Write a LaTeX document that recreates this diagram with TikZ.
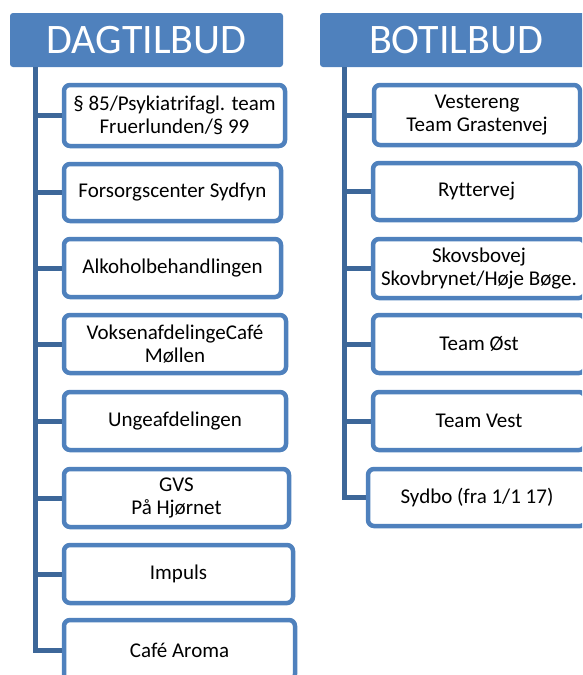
\documentclass[tikz,border=0pt]{standalone}
\usepackage{fontspec}
\setmainfont{Carlito}[Ligatures=NoCommon]
\definecolor{hdr}{HTML}{4F81BD}
\definecolor{brd}{HTML}{4F81BD}
\definecolor{trunk}{HTML}{3D6799}
\begin{document}
\begin{tikzpicture}[x=1pt,y=-1pt,
 hdrbox/.style={fill=hdr, draw=none, rounded corners=3pt, text=white, font=\fontsize{42}{46}\selectfont, inner sep=0pt},
 itembox/.style={draw=brd, line width=4.5pt, fill=white, rounded corners=6pt, align=center, font=\fontsize{21}{23.5}\selectfont, inner sep=0pt},
 conn/.style={draw=trunk, line width=5pt}]
\useasboundingbox (0,0) rectangle (582,675);
\clip (0,0) rectangle (582,675);
% headers
\node[hdrbox, minimum width=273pt, minimum height=54pt] (dag) at (146.5,40) {DAGTILBUD};
\node[hdrbox, minimum width=272pt, minimum height=54pt] (bo) at (456,40) {BOTILBUD};
\coordinate (ltop) at (35,67);
\coordinate (rtop) at (344.5,67);
% left boxes
\node[itembox, minimum width=221pt, minimum height=61pt] (l1) at (174.5,115.5) {§ 85/Psykiatrifagl. team\\Fruerlunden/§ 99};
\node[itembox, minimum width=217pt, minimum height=57pt] (l2) at (172.5,192.5) {Forsorgscenter Sydfyn};
\node[itembox, minimum width=217pt, minimum height=58pt] (l3) at (172.5,268) {Alkoholbehandlingen};
\node[itembox, minimum width=222pt, minimum height=58pt] (l4) at (175,344) {VoksenafdelingeCafé\\Møllen};
\node[itembox, minimum width=222pt, minimum height=58pt] (l5) at (175,421) {Ungeafdelingen};
\node[itembox, minimum width=225pt, minimum height=58pt] (l6) at (176.5,498) {GVS\\På Hjørnet};
\node[itembox, minimum width=229pt, minimum height=58pt] (l7) at (178.5,574) {Impuls};
\node[itembox, minimum width=231pt, minimum height=60pt] (l8) at (179.5,650) {Café Aroma};
% right boxes
\node[itembox, minimum width=206pt, minimum height=60pt] (r1) at (477,115) {Vestereng\\Team Grastenvej};
\node[itembox, minimum width=207pt, minimum height=57pt] (r2) at (476.5,191.5) {Ryttervej};
\node[itembox, minimum width=212pt, minimum height=59pt] (r3) at (479,268.5) {Skovsbovej\\Skovbrynet/Høje Bøge.};
\node[itembox, minimum width=212pt, minimum height=58pt] (r4) at (479,344) {Team Øst};
\node[itembox, minimum width=212pt, minimum height=58pt] (r5) at (479,421) {Team Vest};
\node[itembox, minimum width=218pt, minimum height=57pt] (r6) at (477,497.5) {Sydbo (fra 1/1 17)};
% connectors
\draw[conn] (ltop) |- (l8.west);
\foreach \b in {l1,l2,l3,l4,l5,l6,l7} \draw[conn] (ltop |- \b.west) -- (\b.west);
\draw[conn] (rtop) |- (r6.west);
\foreach \b in {r1,r2,r3,r4,r5} \draw[conn] (rtop |- \b.west) -- (\b.west);
\end{tikzpicture}
\end{document}
